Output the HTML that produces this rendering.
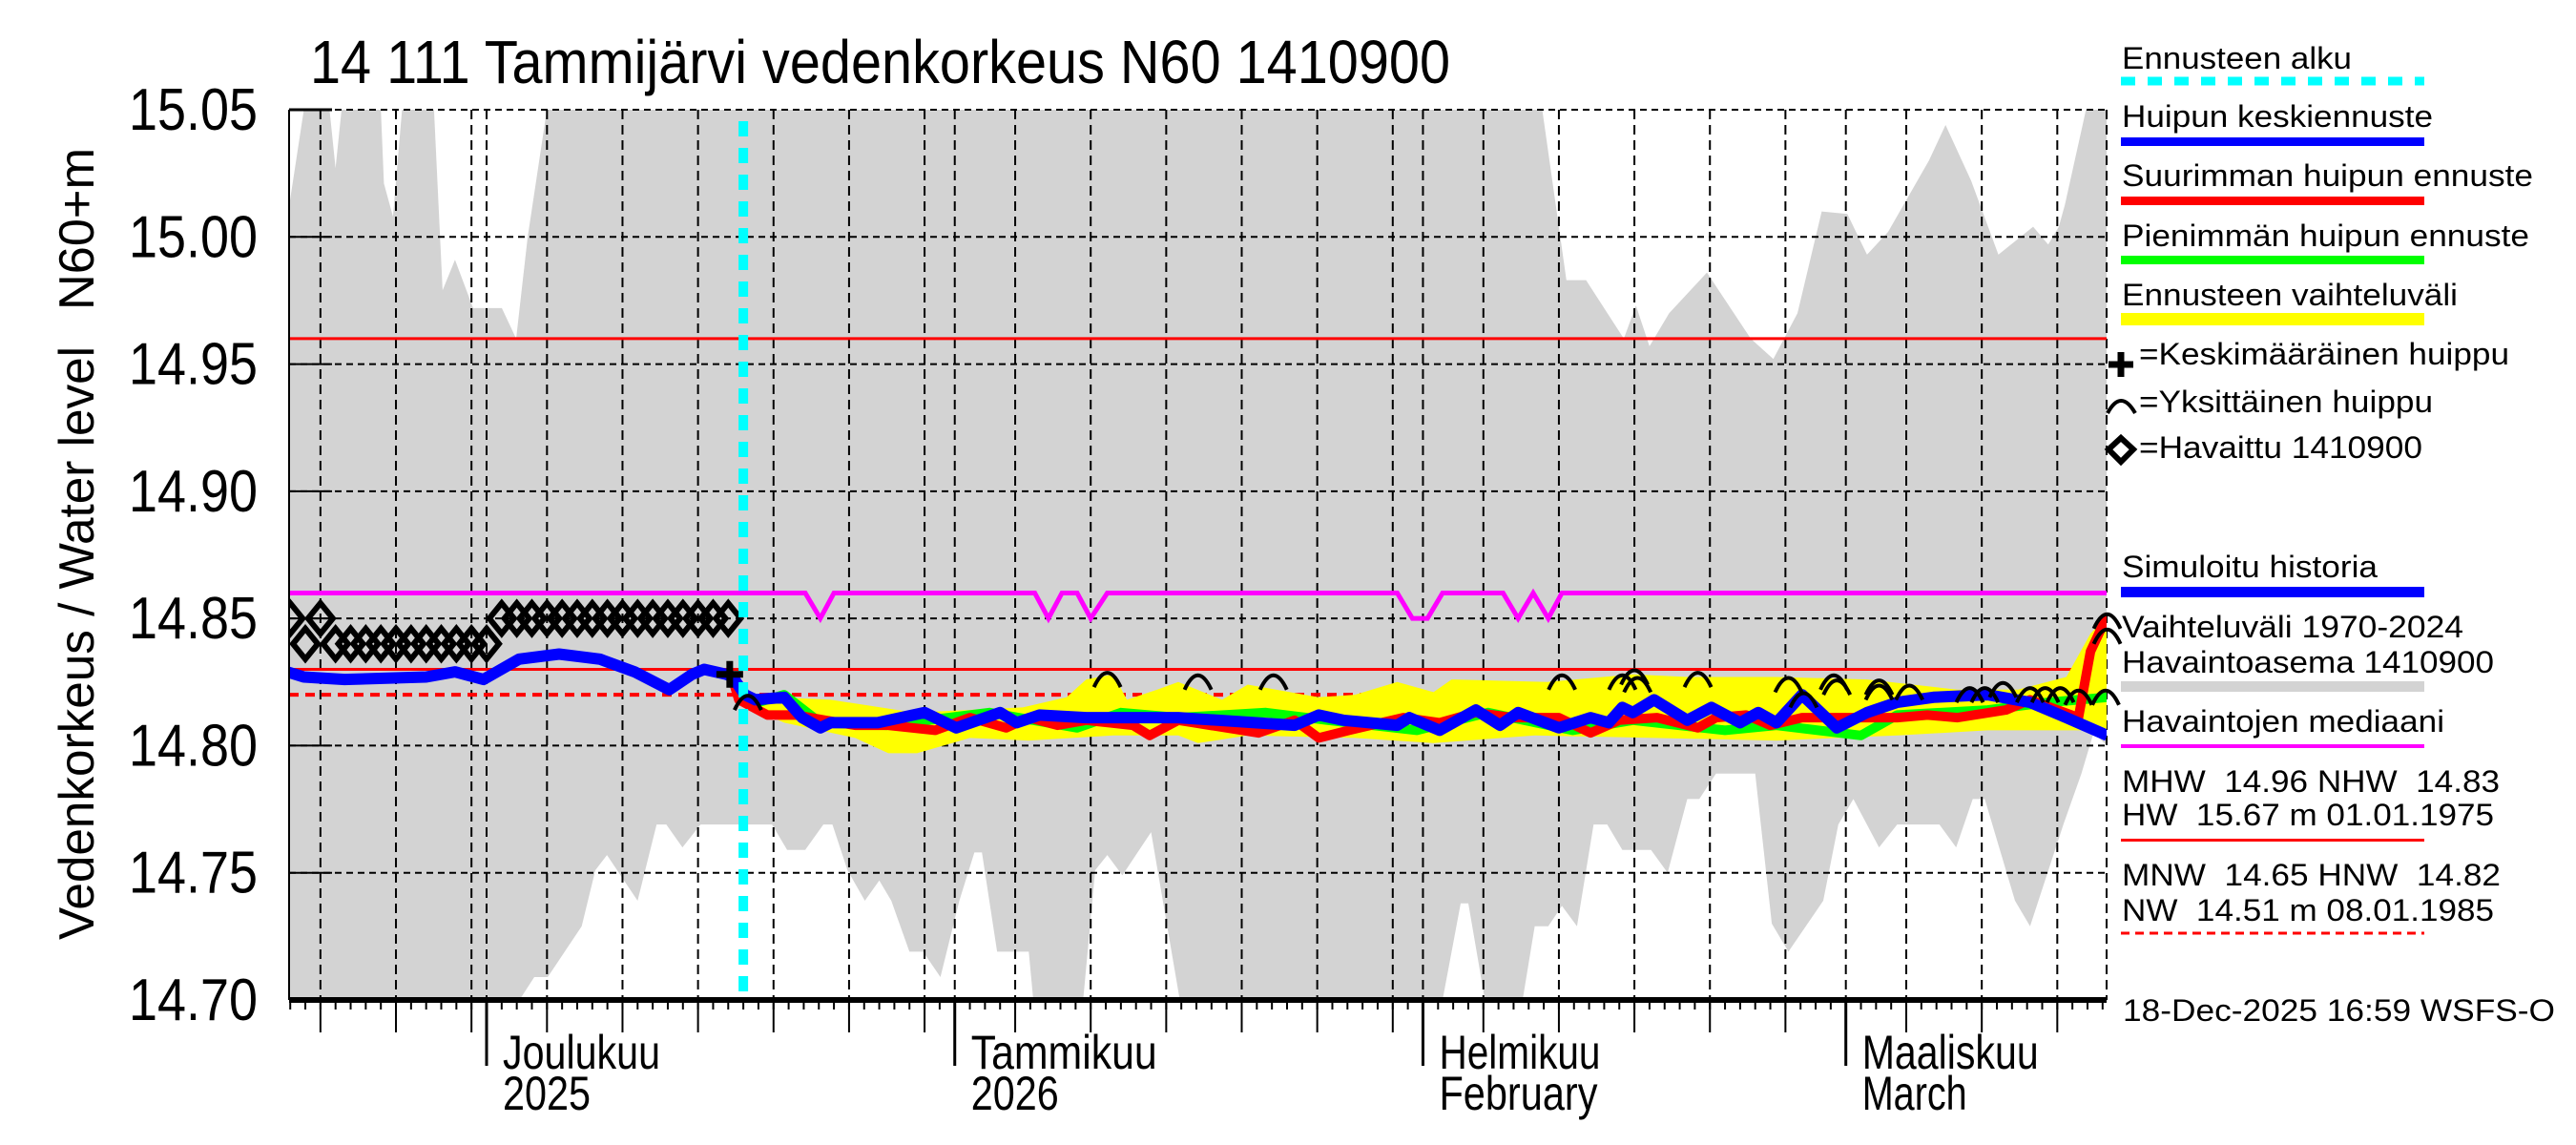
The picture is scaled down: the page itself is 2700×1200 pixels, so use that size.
<!DOCTYPE html>
<html><head><meta charset="utf-8">
<style>
html,body{margin:0;padding:0;background:#fff;}
svg{display:block;font-family:"Liberation Sans",sans-serif;}
</style></head>
<body>
<svg id="chart" width="2700" height="1200" viewBox="0 0 2700 1200">
<defs><clipPath id="plotclip"><rect x="303" y="115" width="1905" height="933"/></clipPath></defs>
<rect x="0" y="0" width="2700" height="1200" fill="#fff"/>
<g id="plot"></g>
<g id="axes"></g>
<text x="325" y="87" font-size="64" textLength="1195" lengthAdjust="spacingAndGlyphs">14 111 Tammijärvi vedenkorkeus N60 1410900</text>
<text transform="translate(98,985) rotate(-90)" font-size="52" textLength="622" lengthAdjust="spacingAndGlyphs">Vedenkorkeus / Water level</text>
<text transform="translate(98,325) rotate(-90)" font-size="52" textLength="170" lengthAdjust="spacingAndGlyphs">N60+m</text>
<g id="legend">
 <text x="2224" y="72" font-size="32" textLength="241" lengthAdjust="spacingAndGlyphs">Ennusteen alku</text>
 <line x1="2223" y1="85" x2="2541" y2="85" stroke="#00ffff" stroke-width="9" stroke-dasharray="15,13"/>
 <text x="2224" y="133" font-size="32" textLength="326" lengthAdjust="spacingAndGlyphs">Huipun keskiennuste</text>
 <rect x="2223" y="144" width="318" height="9" fill="#0000ff"/>
 <text x="2224" y="195" font-size="32" textLength="431" lengthAdjust="spacingAndGlyphs">Suurimman huipun ennuste</text>
 <rect x="2223" y="206" width="318" height="9" fill="#ff0000"/>
 <text x="2224" y="258" font-size="32" textLength="427" lengthAdjust="spacingAndGlyphs">Pienimmän huipun ennuste</text>
 <rect x="2223" y="268" width="318" height="9" fill="#00ff00"/>
 <text x="2224" y="320" font-size="32" textLength="352" lengthAdjust="spacingAndGlyphs">Ennusteen vaihteluväli</text>
 <rect x="2223" y="328" width="318" height="13" fill="#ffff00"/>
 <path d="M2210,382 h26 M2223,369 v26" stroke="#000" stroke-width="7"/>
 <text x="2242" y="382" font-size="32" textLength="388" lengthAdjust="spacingAndGlyphs">=Keskimääräinen huippu</text>
 <path d="M2209,433 Q2223,407 2238,433" stroke="#000" stroke-width="4" fill="none"/>
 <text x="2242" y="432" font-size="32" textLength="308" lengthAdjust="spacingAndGlyphs">=Yksittäinen huippu</text>
 <polygon points="2223,459 2236,471 2223,484 2210,471" stroke="#000" stroke-width="6" fill="none"/>
 <text x="2242" y="480" font-size="32" textLength="297" lengthAdjust="spacingAndGlyphs">=Havaittu 1410900</text>
 <text x="2224" y="605" font-size="32" textLength="268" lengthAdjust="spacingAndGlyphs">Simuloitu historia</text>
 <rect x="2223" y="615" width="318" height="11" fill="#0000ff"/>
 <text x="2224" y="668" font-size="32" textLength="358" lengthAdjust="spacingAndGlyphs">Vaihteluväli 1970-2024</text>
 <text x="2224" y="705" font-size="32" textLength="390" lengthAdjust="spacingAndGlyphs">Havaintoasema 1410900</text>
 <rect x="2223" y="714" width="318" height="11" fill="#d3d3d3"/>
 <text x="2224" y="767" font-size="32" textLength="338" lengthAdjust="spacingAndGlyphs">Havaintojen mediaani</text>
 <rect x="2223" y="780" width="318" height="4" fill="#ff00ff"/>
 <text x="2224" y="830" font-size="32" textLength="396" lengthAdjust="spacingAndGlyphs" xml:space="preserve">MHW  14.96 NHW  14.83</text>
 <text x="2224" y="865" font-size="32" textLength="390" lengthAdjust="spacingAndGlyphs" xml:space="preserve">HW  15.67 m 01.01.1975</text>
 <rect x="2223" y="879" width="318" height="3" fill="#ff0000"/>
 <text x="2224" y="928" font-size="32" textLength="397" lengthAdjust="spacingAndGlyphs" xml:space="preserve">MNW  14.65 HNW  14.82</text>
 <text x="2224" y="965" font-size="32" textLength="390" lengthAdjust="spacingAndGlyphs" xml:space="preserve">NW  14.51 m 08.01.1985</text>
 <line x1="2223" y1="978" x2="2541" y2="978" stroke="#ff0000" stroke-width="3" stroke-dasharray="9,6"/>
 <text x="2225" y="1070" font-size="32" textLength="453" lengthAdjust="spacingAndGlyphs">18-Dec-2025 16:59 WSFS-O</text>
</g>
</svg>
<script>
// ---- data (day = days since 1 Dec 2025) ----
const yTicks = [15.05, 15.00, 14.95, 14.90, 14.85, 14.80, 14.75, 14.70];
const yTickLabels = ["15.05","15.00","14.95","14.90","14.85","14.80","14.75","14.70"];
const monthDays = [0, 31, 62, 90];
const monthLabels1 = ["Joulukuu","Tammikuu","Helmikuu","Maaliskuu"];
const monthLabels2 = ["2025","2026","February","March"];
const gridDays = [-11,-6,-1,0,4,9,14,19,24,29,31,35,40,45,50,55,60,62,66,71,76,81,86,90,94,99,104];
const upperDays = [-13.1,-12.1,-10.4,-10.0,-9.6,-7.0,-6.8,-6.2,-5.6,-3.48,-2.91,-2.09,-0.89,1.01,1.96,2.72,3.99,69.9,71.5,72.8,75.3,76.1,77.0,78.3,80.8,83.7,85.2,86.8,88.4,90.1,91.4,92.8,95.5,96.6,98.3,100.1,102.4,103.4,104.1,104.5,105.9,107.3];
const upperVals = [15.011,15.05,15.05,15.027,15.05,15.05,15.021,15.008,15.05,15.05,14.979,14.991,14.972,14.972,14.960,15.00,15.05,15.05,14.983,14.983,14.960,14.973,14.957,14.970,14.986,14.960,14.952,14.970,15.010,15.009,14.993,15.002,15.030,15.044,15.022,14.993,15.004,14.997,15.004,15.0125,15.05,15.05];
const lowerDays = [-13.1,2.18,3.16,4.05,6.3,7.2,7.97,10.0,11.26,11.9,12.97,14.17,18.9,19.9,21.1,22.3,22.9,23.9,25.05,26.0,26.8,28.0,28.9,30.05,31.3,32.3,32.8,33.8,35.9,36.2,39.5,40.3,41.1,42.1,44.0,45.9,63.3,64.5,65.0,66.1,68.6,69.4,70.3,71.2,72.2,73.3,74.2,75.2,77.1,78.2,79.5,80.3,81.4,84.0,85.1,86.2,88.5,89.5,90.5,92.2,93.4,96.2,97.3,98.4,99.2,101.2,102.2,104.4,105.6,106.4,107.3];
const lowerVals = [14.70,14.70,14.709,14.709,14.729,14.751,14.757,14.739,14.769,14.769,14.760,14.769,14.769,14.759,14.759,14.769,14.769,14.751,14.739,14.747,14.739,14.719,14.719,14.709,14.739,14.758,14.758,14.719,14.719,14.70,14.70,14.751,14.757,14.749,14.766,14.70,14.70,14.738,14.738,14.70,14.70,14.729,14.729,14.737,14.729,14.769,14.769,14.759,14.759,14.750,14.779,14.779,14.789,14.789,14.730,14.719,14.739,14.769,14.779,14.760,14.769,14.769,14.760,14.779,14.779,14.739,14.729,14.769,14.789,14.805,14.800];
const medianDays = [-13.1,21.1,22.1,23.0,36.3,37.2,38.1,39.1,40.0,41.1,60.3,61.3,62.3,63.3,67.3,68.3,69.3,70.3,71.2,107.3];
const medianVals = [14.86,14.86,14.85,14.86,14.86,14.85,14.86,14.86,14.85,14.86,14.86,14.85,14.85,14.86,14.86,14.85,14.86,14.85,14.86,14.86];
const refLevels = [14.96, 14.83];
const hnwLevel = 14.82;
const forecastStartDay = 17;
const obsDays = [-13,-12,-11,-10,-9,-8,-7,-6,-5,-4,-3,-2,-1,0,1,2,3,4,5,6,7,8,9,10,11,12,13,14,15,16];
const obsVals = [14.85,14.84,14.85,14.84,14.84,14.84,14.84,14.84,14.84,14.84,14.84,14.84,14.84,14.84,14.85,14.85,14.85,14.85,14.85,14.85,14.85,14.85,14.85,14.85,14.85,14.85,14.85,14.85,14.85,14.85];
const simDays = [-13.2,-12.1,-9.4,-4.0,-2.1,-0.2,2.15,4.8,7.5,9.8,12.1,13.6,14.4,15.9,16.3];
const simVals = [14.829,14.827,14.826,14.827,14.829,14.826,14.834,14.836,14.834,14.829,14.822,14.828,14.830,14.828,14.827];
const bandDaysUp = [16.3,16.9,19.3,22.8,28.3,35.5,38.4,39.7,41.5,42.4,44.4,45.8,48.7,50.4,55.1,57.5,60.3,62.7,63.9,70.2,75.9,79.5,85.4,91.4,97.4,101.4,104.6,106.2,107.3];
const bandValsUp = [14.827,14.820,14.819,14.818,14.813,14.815,14.819,14.826,14.828,14.818,14.822,14.825,14.818,14.824,14.819,14.820,14.825,14.821,14.826,14.825,14.828,14.827,14.827,14.826,14.822,14.822,14.827,14.844,14.851];
const bandDaysLow = [16.3,17.4,19.7,24.4,26.6,28.5,32.0,35.9,41.5,45.8,47.1,50.4,57.5,62.7,69.4,77.4,85.4,93.4,99.4,107.3];
const bandValsLow = [14.825,14.815,14.809,14.803,14.797,14.797,14.803,14.802,14.804,14.804,14.801,14.804,14.803,14.801,14.804,14.803,14.802,14.804,14.806,14.806];
const minDays = [16.3,17.4,19.7,22.1,26.5,33.3,39.1,42.0,45.8,51.6,55.7,61.6,66.3,71.9,75.9,82.0,85.4,91.0,93.4,99.4,103.4,107.3];
const minVals = [14.826,14.816,14.820,14.809,14.808,14.813,14.807,14.813,14.811,14.813,14.810,14.806,14.813,14.806,14.810,14.806,14.808,14.804,14.812,14.814,14.817,14.819];
const maxDays = [16.3,16.7,18.6,20.5,22.4,24.4,26.6,29.7,32.0,34.4,35.9,37.8,39.7,42.8,43.9,45.8,51.1,53.5,55.1,57.1,60.7,63.1,65.5,67.9,71.0,73.1,75.0,77.5,80.2,81.4,83.4,85.0,87.1,89.4,91.8,93.4,95.4,97.4,100.6,102.2,105.4,106.2,107.3];
const maxVals = [14.826,14.818,14.812,14.812,14.810,14.808,14.808,14.806,14.811,14.807,14.811,14.808,14.810,14.808,14.804,14.810,14.805,14.810,14.803,14.806,14.811,14.809,14.813,14.811,14.811,14.805,14.810,14.811,14.807,14.811,14.812,14.808,14.811,14.811,14.811,14.811,14.812,14.811,14.814,14.818,14.811,14.837,14.851];
const meanDays = [16.3,17.1,17.8,19.7,20.9,22.1,22.8,25.9,29.0,31.1,34.0,35.1,36.6,39.7,42.8,45.8,53.5,55.1,56.7,60.3,61.1,63.1,65.5,67.1,68.3,71.0,73.1,74.3,75.2,75.9,77.3,79.5,81.1,83.0,84.2,85.4,87.1,89.4,91.4,93.4,95.8,99.4,102.2,104.6,107.3];
const meanVals = [14.827,14.820,14.818,14.819,14.811,14.807,14.809,14.809,14.813,14.807,14.813,14.809,14.812,14.811,14.811,14.811,14.808,14.812,14.810,14.808,14.811,14.806,14.814,14.808,14.813,14.807,14.811,14.809,14.815,14.813,14.818,14.810,14.815,14.809,14.813,14.809,14.820,14.807,14.813,14.817,14.819,14.820,14.817,14.811,14.804];
const peakDays = [17.3,41.1,47.1,52.1,71.2,75.2,76.0,76.2,80.2,86.2,87.2,89.2,89.4,92.2,92.2,94.2,98.2,99.2,100.4,102.2,103.2,104.2,105.4,107.2,107.3,107.3];
const peakVals = [14.820,14.829,14.828,14.828,14.828,14.828,14.830,14.827,14.829,14.827,14.821,14.828,14.826,14.826,14.824,14.824,14.823,14.823,14.825,14.823,14.823,14.823,14.822,14.822,14.852,14.846];
const meanPeakDay = 16.1;
const meanPeakVal = 14.828;

// ---- scales ----
const X0 = 303, X1 = 2208, Y0 = 115, Y1 = 1048;
const DAY0 = 510, PXDAY = 15.83;
function xs(d){ return DAY0 + d*PXDAY; }
function ys(v){ return Y0 + (15.05 - v)/0.35*(Y1-Y0); }
const NS = "http://www.w3.org/2000/svg";
const plotG = document.getElementById('plot');
const axesG = document.getElementById('axes');
function mk(tag, attrs, parent){
  const e = document.createElementNS(NS, tag);
  for (const k in attrs) e.setAttribute(k, attrs[k]);
  parent.appendChild(e);
  return e;
}
function pts(ds, vs){ return ds.map((d,i)=> xs(d).toFixed(1)+','+ys(vs[i]).toFixed(1)).join(' '); }

const clipG = mk('g', {'clip-path':'url(#plotclip)'}, plotG);



const band = mk('polygon', {points: pts(upperDays, upperVals) + ' ' + pts(lowerDays.slice().reverse(), lowerVals.slice().reverse()), fill:'#d3d3d3'}, clipG);



yTicks.forEach((v,i)=>{
  const g = mk('line', {x1:X0, x2:X1, y1:ys(v), y2:ys(v), stroke:'#000', 'stroke-width':2, 'stroke-dasharray':'7,5'}, plotG);
  
  
});
gridDays.forEach(d=>{
  const g = mk('line', {x1:xs(d), x2:xs(d), y1:Y0, y2:Y1, stroke:'#000', 'stroke-width':2, 'stroke-dasharray':'10,6'}, plotG);
  
  
});
const rEdge = mk('line', {x1:X1, x2:X1, y1:Y0, y2:Y1, stroke:'#000', 'stroke-width':2, 'stroke-dasharray':'10,6'}, plotG);



const seriesG = mk('g', {'clip-path':'url(#plotclip)'}, plotG);



refLevels.forEach(v=>{
  const l = mk('line', {x1:X0, x2:X1, y1:ys(v), y2:ys(v), stroke:'#ff0000', 'stroke-width':3}, seriesG);
  
  
});
const hnw = mk('line', {x1:X0, x2:X1, y1:ys(hnwLevel), y2:ys(hnwLevel), stroke:'#ff0000', 'stroke-width':4, 'stroke-dasharray':'10,7'}, seriesG);



const med = mk('polyline', {points: pts(medianDays, medianVals), fill:'none', stroke:'#ff00ff', 'stroke-width':5}, seriesG);



const yb = mk('polygon', {points: pts(bandDaysUp, bandValsUp) + ' ' + pts(bandDaysLow.slice().reverse(), bandValsLow.slice().reverse()), fill:'#ffff00'}, seriesG);



const gl = mk('polyline', {points: pts(minDays, minVals), fill:'none', stroke:'#00ff00', 'stroke-width':10, 'stroke-linejoin':'round'}, seriesG);


const rl = mk('polyline', {points: pts(maxDays, maxVals), fill:'none', stroke:'#ff0000', 'stroke-width':10, 'stroke-linejoin':'round'}, seriesG);


const bl = mk('polyline', {points: pts(meanDays, meanVals), fill:'none', stroke:'#0000ff', 'stroke-width':12, 'stroke-linejoin':'round'}, seriesG);


const sl = mk('polyline', {points: pts(simDays, simVals), fill:'none', stroke:'#0000ff', 'stroke-width':12, 'stroke-linejoin':'round'}, seriesG);



const cy = mk('line', {x1:xs(forecastStartDay), x2:xs(forecastStartDay), y1:Y0+12, y2:Y1, stroke:'#00ffff', 'stroke-width':10, 'stroke-dasharray':'16,12'}, plotG);



obsDays.forEach((d,i)=>{
  const x = xs(d), y = ys(obsVals[i]);
  const p = mk('polygon', {points:`${x},${y-16} ${x+13},${y} ${x},${y+16} ${x-13},${y}`, fill:'none', stroke:'#000', 'stroke-width':6}, seriesG);
  
  
});

peakDays.forEach((d,i)=>{
  const x = xs(d), y = ys(peakVals[i]);
  const a = mk('path', {d:`M${x-14},${y+16} Q${x},${y-14} ${x+14},${y+16}`, fill:'none', stroke:'#000', 'stroke-width':4}, plotG);
  
  
});

{
  const x = xs(meanPeakDay), y = ys(meanPeakVal);
  const p = mk('path', {d:`M${x-14},${y} h28 M${x},${y-14} v28`, stroke:'#000', 'stroke-width':7}, plotG);
  
  
}

const la = mk('line', {x1:X0, x2:X0, y1:Y0, y2:Y1, stroke:'#000', 'stroke-width':2}, axesG);


const tl = mk('line', {x1:X0, x2:X0+45, y1:Y0, y2:Y0, stroke:'#000', 'stroke-width':3}, axesG);


const ba = mk('line', {x1:X0, x2:X1, y1:Y1, y2:Y1, stroke:'#000', 'stroke-width':6}, axesG);


yTicks.forEach((v,i)=>{
  const t = mk('line', {x1:X0, x2:X0+45, y1:ys(v), y2:ys(v), stroke:'#000', 'stroke-width':2}, axesG);
  
  
  const lb = mk('text', {x:270, y:ys(v)+21, 'font-size':62, 'text-anchor':'end', textLength:135, lengthAdjust:'spacingAndGlyphs'}, axesG);
  lb.textContent = yTickLabels[i];
  
  
});
for (let d = -13; d <= 107; d++) {
  const t = mk('line', {x1:xs(d), x2:xs(d), y1:Y1, y2:Y1+10, stroke:'#000', 'stroke-width':2}, axesG);
  
  
}
gridDays.forEach(d=>{
  if (monthDays.indexOf(d) >= 0) return;
  const t = mk('line', {x1:xs(d), x2:xs(d), y1:Y1, y2:1082, stroke:'#000', 'stroke-width':2}, axesG);
  
  
});
const monthW1 = [165,195,169,185];
const monthW2 = [92,92,166,110];
monthDays.forEach((d,i)=>{
  const t = mk('line', {x1:xs(d), x2:xs(d), y1:Y1, y2:1117, stroke:'#000', 'stroke-width':3}, axesG);
  
  
  const a = mk('text', {x:xs(d)+17, y:1120, 'font-size':50, textLength:monthW1[i], lengthAdjust:'spacingAndGlyphs'}, axesG);
  a.textContent = monthLabels1[i];
  
  
  const b = mk('text', {x:xs(d)+17, y:1163, 'font-size':50, textLength:monthW2[i], lengthAdjust:'spacingAndGlyphs'}, axesG);
  b.textContent = monthLabels2[i];
  
  
});
</script>
</body></html>
